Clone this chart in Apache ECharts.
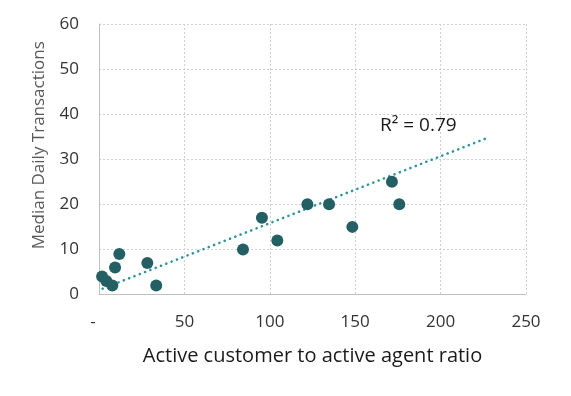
<!DOCTYPE html>
<html>
<head>
<meta charset="utf-8">
<script src="https://cdn.jsdelivr.net/npm/echarts@6/dist/echarts.min.js"></script>
<style>html,body{margin:0;padding:0;background:#fff}#c{width:571px;height:396px}</style>
</head>
<body>
<div id="c"></div>
<script>
// Active customer to active agent ratio
var ratio = [1.8, 4.3, 7.8, 9.4, 11.9, 28.3, 33.5, 84.3, 95.4, 104.4, 122, 134.7, 148.3, 171.5, 175.8];
// Median daily transactions
var medianTx = [4, 3, 2, 6, 9, 7, 2, 10, 17, 12, 20, 20, 15, 25, 20];
// Trendline endpoints (as drawn in the reference)
var trendX = [2.1, 228.5];
var trendY = [1.3, 34.9];
var rSquaredLabel = 'R² = 0.79';
var xTicks = [0, 50, 100, 150, 200, 250];
var yTicks = [0, 10, 20, 30, 40, 50, 60];

var points = ratio.map(function (x, i) { return [x, medianTx[i]]; });
var trend = trendX.map(function (x, i) { return [x, trendY[i]]; });

var chart = echarts.init(document.getElementById('c'));
var font = '"Open Sans", sans-serif';
chart.setOption({
  animation: false,
  grid: { left: 99, right: 45, top: 24, bottom: 101.5 },
  xAxis: {
    type: 'value', min: xTicks[0], max: xTicks[xTicks.length - 1], interval: 50,
    name: 'Active customer to active agent ratio', nameLocation: 'middle', nameGap: 52,
    nameTextStyle: { fontFamily: font, fontSize: 20, color: '#1a1a1a' },
    axisLine: { show: true, lineStyle: { color: '#BFBFBF', width: 1 } },
    axisTick: { show: false },
    axisLabel: {
      fontFamily: font, fontSize: 17, color: '#333', margin: 19,
      formatter: function (v) { return v === 0 ? '{d|-}' : String(v); },
      rich: { d: { fontFamily: font, fontSize: 17, color: '#333', padding: [0, 12, 0, 0] } }
    },
    splitLine: { show: true, lineStyle: { color: '#D0D0D0', type: [2, 2], width: 1 } }
  },
  yAxis: {
    type: 'value', min: yTicks[0], max: yTicks[yTicks.length - 1], interval: 10,
    name: 'Median Daily Transactions', nameLocation: 'middle', nameGap: 51,
    nameTextStyle: { fontFamily: font, fontSize: 17, color: '#595959', padding: [0, 0, 0, 28] },
    axisLine: { show: true, lineStyle: { color: '#BFBFBF', width: 1 } },
    axisTick: { show: false },
    axisLabel: { fontFamily: font, fontSize: 17, color: '#333', margin: 20 },
    splitLine: { show: true, lineStyle: { color: '#D0D0D0', type: [2, 2], width: 1 } }
  },
  series: [
    {
      type: 'line', data: trend, symbol: 'none', silent: true, z: 1,
      lineStyle: { color: '#2E959B', width: 2.6, type: [0.1, 5.6], cap: 'round' }
    },
    {
      type: 'scatter', data: points, symbolSize: 12, z: 2,
      itemStyle: { color: '#245F64', opacity: 1 }
    }
  ],
  graphic: [{
    type: 'text', left: 380, top: 116,
    style: { text: rSquaredLabel, font: '19px "Open Sans", sans-serif', fill: '#1a1a1a' }
  }]
});
</script>
</body>
</html>
